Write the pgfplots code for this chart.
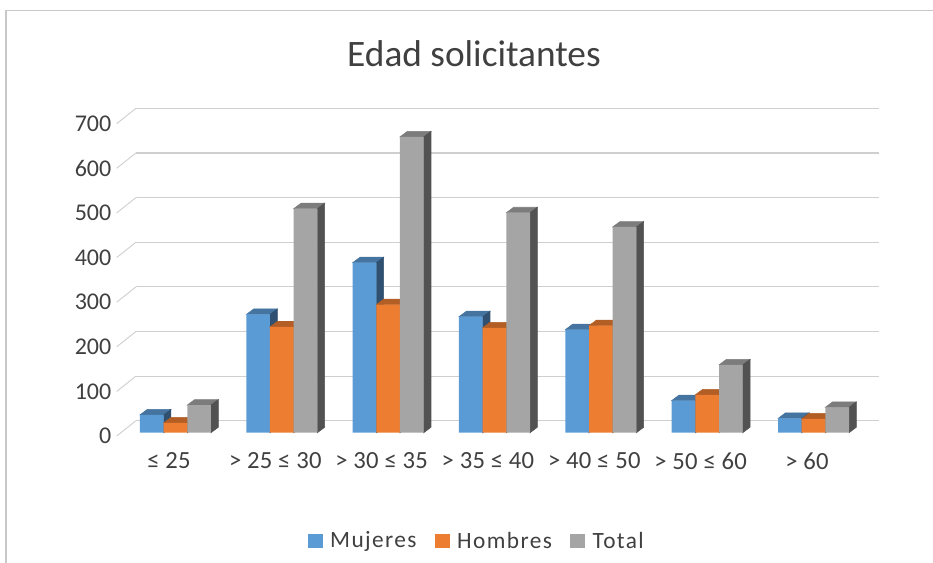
\documentclass[border=0pt]{standalone}
\usepackage{fontspec}
\setmainfont{Carlito}
\usepackage{pgfplots}
\usepackage{pgfplotstable}
\pgfplotsset{compat=1.18}

\definecolor{txt}{HTML}{404040}
\definecolor{gridc}{HTML}{CFCFCF}
\definecolor{frame}{HTML}{C8C8C8}
\definecolor{cM}{HTML}{5B9BD5}
\definecolor{cMt}{HTML}{44749F}
\definecolor{cMs}{HTML}{2F5070}
\definecolor{cH}{HTML}{ED7D31}
\definecolor{cHt}{HTML}{B25E25}
\definecolor{cHs}{HTML}{83451B}
\definecolor{cT}{HTML}{A5A5A5}
\definecolor{cTt}{HTML}{7C7C7C}
\definecolor{cTs}{HTML}{525252}

\pgfplotstableread{
k M H T
0 40 22 62
1 265 237 502
2 381 287 663
3 260 235 493
4 231 240 461
5 72 85 152
6 32 31 57
}\edad

% 1 px = 0.75 pt; bar 23.67 px wide, depth 7.3 x 5.5 px
\pgfdeclareplotmark{nothing}{}
\pgfdeclareplotmark{slant}{%
  \pgfpathmoveto{\pgfpoint{0pt}{-2.5pt}}%
  \pgfpathlineto{\pgfpoint{14.475pt}{9pt}}%
  \pgfusepathqstroke}

\pgfplotsset{
  faces/.style n args={3}{
    scatter, only marks, forget plot, mark=nothing,
    visualization depends on={rawy \as \barval},
    scatter/@pre marker code/.code={%
      \scope
      \pgfmathsetmacro\barh{\barval*0.33473}%
      \fill[#2] (#1-8.875pt,0pt) -- (#1+8.875pt,0pt) -- ++(5.5pt,4.1pt) -- ++(-17.75pt,0pt) -- cycle;
      \fill[#3] (#1+8.875pt,0pt) -- ++(5.5pt,4.1pt) -- ++(0pt,-\barh pt) -- ++(-5.5pt,-4.1pt) -- cycle;
    },
    scatter/@post marker code/.code={\endscope},
  },
  front/.style 2 args={
    ybar, bar width=17.75pt, bar shift=#1, fill=#2, draw=none,
    legend image code/.code={\fill[#2] (0pt,-5.6pt) rectangle (11.25pt,5.6pt);},
  },
}

\begin{document}
\begin{tikzpicture}[x=1pt,y=1pt]
\path[use as bounding box] (0,0) rectangle (699.75,422.25);
\draw[frame,line width=0.9pt] (4.5,0) -- (4.5,414.4) -- (699.75,414.4);
\begin{axis}[
    at={(87.5pt,97.7pt)}, anchor=south west,
    scale only axis, width=557.5pt, height=234.3pt,
    xmin=-0.553, xmax=6.437, ymin=0, ymax=700,
    clip=false, clip mode=individual,
    axis line style={draw=none},
    major tick length=0pt,
    ytick={0,100,...,700},
    ymajorgrids,
    grid style={gridc, line width=0.9pt, xshift=14.475pt, yshift=9pt},
    xtick={0,...,6},
    xticklabels={≤ 25, > 25 ≤ 30, > 30 ≤ 35, > 35 ≤ 40, > 40 ≤ 50, > 50 ≤ 60, > 60},
    /pgf/number format/assume math mode=true,
    yticklabel style={font=\fontsize{18}{20}\selectfont, text=txt, yshift=-2.5pt, xshift=-0.5pt},
    xticklabel style={font=\fontsize{18.5}{20}\selectfont\addfontfeature{LetterSpace=1}, text=txt, xshift=-4.9pt, yshift=-11.5pt},
    title={Edad solicitantes},
    title style={at={(axis description cs:0.4807,1)}, anchor=base, yshift=34.7pt,
      font=\fontsize{28}{34}\selectfont, text=txt},
    legend columns=3,
    legend style={at={(axis description cs:0.4848,-0.3465)}, anchor=center, draw=none, fill=none,
      font=\fontsize{17.5}{20}\selectfont\addfontfeature{LetterSpace=6}, text=txt,
      /tikz/every odd column/.append style={column sep=3.75pt},
      /tikz/every even column/.append style={column sep=11.5pt}},
]
\addplot[only marks, forget plot, mark=slant, color=gridc, line width=0.7pt] coordinates {
  (-0.553,0) (-0.553,100) (-0.553,200) (-0.553,300) (-0.553,400) (-0.553,500) (-0.553,600) (-0.553,700)};

\addplot[faces={-17.75pt}{cMt}{cMs}] table[x=k,y=M] {\edad};
\addplot[front={-17.75pt}{cM}] table[x=k,y=M] {\edad};
\addlegendentry{Mujeres}
\addplot[faces={0pt}{cHt}{cHs}] table[x=k,y=H] {\edad};
\addplot[front={0pt}{cH}] table[x=k,y=H] {\edad};
\addlegendentry{Hombres}
\addplot[faces={17.75pt}{cTt}{cTs}] table[x=k,y=T] {\edad};
\addplot[front={17.75pt}{cT}] table[x=k,y=T] {\edad};
\addlegendentry{Total}
\end{axis}
\end{tikzpicture}
\end{document}
